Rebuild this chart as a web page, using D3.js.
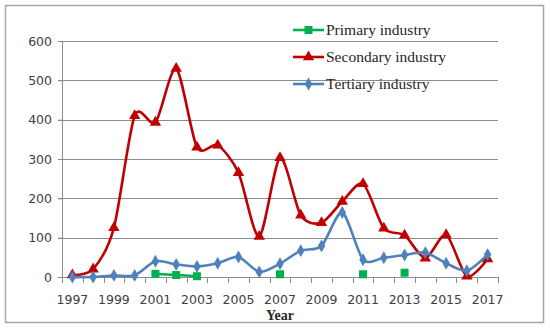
<!DOCTYPE html>
<html>
<head>
<meta charset="utf-8">
<script src="https://cdn.jsdelivr.net/npm/d3@7"></script>
<style>
  body { margin: 0; background: #fff; }
  svg { display: block; }
</style>
</head>
<body>
<div id="wrapper"></div>
<script>
const years = d3.range(1997, 2018).map(String);

const primary = [null, null, null, null, 8, 5, 2, null, null, null, 7, null, null, null, 7, null, 11, null, null, null, null];
const secondary = [5, 20, 125, 410, 393, 530, 330, 335, 265, 103, 303, 157, 138, 192, 237, 124, 106, 48, 107, 2, 46];
const tertiary = [0, 0, 4, 4, 40, 32, 27, 35, 51, 13, 34, 67, 79, 164, 44, 49, 56, 62, 35, 16, 57];

const yTicks = [0, 100, 200, 300, 400, 500, 600];
const xTickLabels = years.filter((d, i) => i % 2 === 0);

const seriesNames = ["Primary industry", "Secondary industry", "Tertiary industry"];

const series = [
  { name: seriesNames[0], values: primary, color: "#00B050", symbol: d3.symbolSquare, size: 64 },
  { name: seriesNames[1], values: secondary, color: "#C00000", symbol: d3.symbolTriangle, size: 56 },
  { name: seriesNames[2], values: tertiary, color: "#4F81BD", symbol: d3.symbolDiamond, size: 48 },
];

const dimensions = {
  width: 550,
  height: 331,
  margin: { top: 41, right: 52, bottom: 54, left: 62 },
};
dimensions.boundedWidth = dimensions.width - dimensions.margin.left - dimensions.margin.right;
dimensions.boundedHeight = dimensions.height - dimensions.margin.top - dimensions.margin.bottom;

const wrapper = d3
  .select("#wrapper")
  .append("svg")
  .attr("width", dimensions.width)
  .attr("height", dimensions.height);

// outer chart border
wrapper
  .append("rect")
  .attr("x", 5.5)
  .attr("y", 5.5)
  .attr("width", 538)
  .attr("height", 317)
  .attr("fill", "none")
  .attr("stroke", "#a6a6a6")
  .attr("stroke-width", 1.5);

const bounds = wrapper
  .append("g")
  .attr("transform", `translate(${dimensions.margin.left},${dimensions.margin.top})`);

const xScale = d3
  .scaleBand()
  .domain(years)
  .range([0, dimensions.boundedWidth])
  .padding(0);

const yScale = d3
  .scaleLinear()
  .domain([0, 600])
  .range([dimensions.boundedHeight, 0]);

const xPos = (i) => xScale(years[i]) + xScale.bandwidth() / 2;

// gridlines
bounds
  .append("g")
  .selectAll("line")
  .data(yTicks.filter((d) => d > 0))
  .join("line")
  .attr("x1", -4)
  .attr("x2", dimensions.boundedWidth)
  .attr("y1", (d) => Math.round(yScale(d)) + 0.5)
  .attr("y2", (d) => Math.round(yScale(d)) + 0.5)
  .attr("stroke", "#8c8c8c")
  .attr("stroke-width", 1);

// y axis
const yAxisGenerator = d3.axisLeft(yScale).tickValues(yTicks).tickSize(4).tickPadding(6);
const yAxis = bounds.append("g").attr("class", "y-axis").call(yAxisGenerator);
yAxis.select(".domain").attr("stroke", "#8c8c8c");
yAxis.selectAll(".tick line").attr("stroke", "#8c8c8c");
yAxis
  .selectAll("text")
  .attr("fill", "#404040")
  .style("font-family", "DejaVu Sans, Verdana, sans-serif")
  .style("font-size", "12.5px");

// x axis: ticks at band boundaries, labels every other year
const boundaries = d3.range(years.length + 1).map((i) => i * xScale.step());
const xAxis = bounds
  .append("g")
  .attr("class", "x-axis")
  .attr("transform", `translate(0,${dimensions.boundedHeight})`);

xAxis
  .append("line")
  .attr("x1", -4)
  .attr("x2", dimensions.boundedWidth)
  .attr("y1", 0.5)
  .attr("y2", 0.5)
  .attr("stroke", "#8c8c8c");

xAxis
  .selectAll(".xtick")
  .data(boundaries)
  .join("line")
  .attr("class", "xtick")
  .attr("x1", (d) => Math.round(d) + 0.5)
  .attr("x2", (d) => Math.round(d) + 0.5)
  .attr("y1", 0)
  .attr("y2", 6)
  .attr("stroke", "#8c8c8c");

xAxis
  .selectAll(".xlabel")
  .data(xTickLabels)
  .join("text")
  .attr("class", "xlabel")
  .attr("x", (d) => xScale(d) + xScale.bandwidth() / 2)
  .attr("y", 27)
  .attr("text-anchor", "middle")
  .attr("fill", "#404040")
  .style("font-family", "DejaVu Sans, Verdana, sans-serif")
  .style("font-size", "12.5px")
  .text((d) => d);

bounds
  .append("text")
  .attr("x", 218)
  .attr("y", dimensions.boundedHeight + 43)
  .attr("text-anchor", "middle")
  .attr("fill", "#262626")
  .style("font-family", "Liberation Serif, Times New Roman, serif")
  .style("font-weight", "bold")
  .style("font-size", "14px")
  .text("Year");

// lines
const lineGenerator = d3
  .line()
  .defined((d) => d !== null)
  .x((d, i) => xPos(i))
  .y((d) => yScale(d))
  .curve(d3.curveCardinal.tension(0.2));

const seriesGroups = bounds
  .selectAll(".series")
  .data(series)
  .join("g")
  .attr("class", "series");

seriesGroups
  .append("path")
  .attr("fill", "none")
  .attr("stroke", (d) => d.color)
  .attr("stroke-width", 2.6)
  .attr("stroke-linejoin", "round")
  .attr("d", (d) => lineGenerator(d.values));

seriesGroups.each(function (s) {
  d3.select(this)
    .selectAll(".marker")
    .data(s.values.map((v, i) => ({ v, i })).filter((d) => d.v !== null))
    .join("path")
    .attr("class", "marker")
    .attr("d", d3.symbol().type(s.symbol).size(s.size))
    .attr("transform", (d) => `translate(${xPos(d.i)},${yScale(d.v)})`)
    .attr("fill", s.color);
});

// legend
const legend = wrapper
  .append("g")
  .attr("transform", "translate(293,30)")
  .selectAll("g")
  .data(series)
  .join("g")
  .attr("transform", (d, i) => `translate(0,${i * 27})`);

legend
  .append("line")
  .attr("x1", 0)
  .attr("x2", 31)
  .attr("stroke", (d) => d.color)
  .attr("stroke-width", 2.6);

legend
  .append("path")
  .attr("d", (d) => d3.symbol().type(d.symbol).size(d.size)())
  .attr("transform", "translate(15.5,0)")
  .attr("fill", (d) => d.color);

legend
  .append("text")
  .attr("x", 33)
  .attr("dy", "0.35em")
  .attr("fill", "#262626")
  .style("font-family", "Liberation Serif, Times New Roman, serif")
  .style("font-size", "15.5px")
  .text((d) => d.name);
</script>
</body>
</html>
